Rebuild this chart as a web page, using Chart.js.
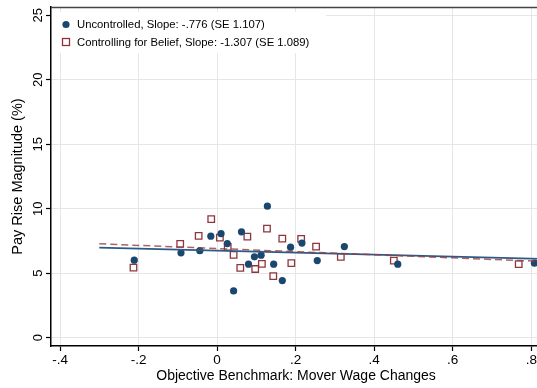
<!DOCTYPE html>
<html>
<head>
<meta charset="utf-8">
<script src="https://cdn.jsdelivr.net/npm/chart.js@4"></script>
<style>
  html, body { margin: 0; padding: 0; background: #fff; overflow: hidden; }
  #wrap { width: 537px; height: 388px; overflow: hidden; position: relative; }
  #payChart { position: absolute; left: 0; top: 0; }
</style>
</head>
<body>
<div id="wrap"><canvas id="payChart" width="547" height="388"></canvas></div>
<script>
// Uncontrolled bin means
const uncX = [-0.211, -0.092, -0.044, -0.016, 0.010, 0.026, 0.062, 0.128, 0.080, 0.095,
              0.112, 0.144, 0.166, 0.042, 0.187, 0.216, 0.255, 0.324, 0.460, 0.808];
const uncY = [6.01, 6.58, 6.75, 7.87, 8.07, 7.30, 8.21, 10.20, 5.70, 6.27,
              6.40, 5.70, 4.43, 3.63, 7.02, 7.34, 5.98, 7.07, 5.70, 5.78];

// Controlling for belief
const belX = [-0.213, -0.094, -0.047, -0.015, 0.007, 0.027, 0.042, 0.077, 0.059, 0.097,
              0.114, 0.127, 0.143, 0.166, 0.189, 0.214, 0.252, 0.315, 0.450, 0.768];
const belY = [5.43, 7.27, 7.90, 9.19, 7.76, 7.04, 6.42, 7.84, 5.41, 5.33,
              5.72, 8.46, 4.77, 7.69, 5.78, 7.66, 7.07, 6.27, 5.98, 5.70];

// fitted lines (end points)
const fitX = [-0.3, 0.825];
const fitUnc = [6.99, 6.12];
const fitBel = [7.28, 5.92];

const legendLabels = ['Uncontrolled, Slope: -.776 (SE 1.107)', 'Controlling for Belief, Slope: -1.307 (SE 1.089)'];
const xTickValues = [-0.4, -0.2, 0, 0.2, 0.4, 0.6, 0.8];
const xTickLabels = ['-.4', '-.2', '0', '.2', '.4', '.6', '.8'];
const yTickValues = [0, 5, 10, 15, 20, 25];
const yTickLabels = ['0', '5', '10', '15', '20', '25'];

const navy = '#1a476f';
const maroon = '#90353b';
const font = "'Liberation Sans', Arial, sans-serif";

function pts(xs, ys) {
    return xs.map((x, i) => ({ x: x, y: ys[i] }));
}

// legend box inside the plot + top frame + rotated y tick labels
const stataBits = {
    id: 'stataBits',
    beforeDatasetsDraw(chart) {
        const ctx = chart.ctx;
        const a = chart.chartArea;
        ctx.save();
        ctx.fillStyle = '#fff';
        ctx.fillRect(a.left + 1, 12, 274, 41);
        ctx.font = '11.3px ' + font;
        ctx.textBaseline = 'middle';
        ctx.textAlign = 'left';
        // circle
        ctx.beginPath();
        ctx.fillStyle = navy;
        ctx.arc(66, 24.5, 3.6, 0, Math.PI * 2);
        ctx.fill();
        // square
        ctx.strokeStyle = maroon;
        ctx.lineWidth = 1.3;
        ctx.strokeRect(62.5, 38.5, 7, 7);
        ctx.fillStyle = '#000';
        ctx.fillText(legendLabels[0], 77, 24.5);
        ctx.fillText(legendLabels[1], 77, 42.5);
        ctx.restore();
    },
    afterDraw(chart) {
        const ctx = chart.ctx;
        const a = chart.chartArea;
        const ys = chart.scales.y;
        ctx.save();
        ctx.strokeStyle = '#444';
        ctx.lineWidth = 1.5;
        ctx.beginPath();
        ctx.moveTo(a.left, a.top + 0.5);
        ctx.lineTo(a.right, a.top + 0.5);
        ctx.stroke();
        ctx.font = '13px ' + font;
        ctx.fillStyle = '#000';
        ctx.textAlign = 'center';
        ctx.textBaseline = 'alphabetic';
        yTickValues.forEach((v, i) => {
            const py = ys.getPixelForValue(v);
            ctx.save();
            ctx.translate(41.5, py);
            ctx.rotate(-Math.PI / 2);
            ctx.fillText(yTickLabels[i], 0, 0);
            ctx.restore();
        });
        ctx.restore();
    }
};

window.onload = function () {
    const ctx = document.getElementById('payChart').getContext('2d');
    new Chart(ctx, {
        type: 'scatter',
        data: {
            datasets: [
                {
                    label: legendLabels[0],
                    data: pts(uncX, uncY),
                    backgroundColor: navy,
                    borderColor: navy,
                    pointRadius: 3.6,
                    pointHoverRadius: 3.6,
                    borderWidth: 0,
                    order: 2
                },
                {
                    label: legendLabels[1],
                    data: pts(belX, belY),
                    pointStyle: 'rect',
                    backgroundColor: 'rgba(0,0,0,0)',
                    borderColor: maroon,
                    borderWidth: 1.3,
                    pointRadius: 4.6,
                    pointHoverRadius: 4.6,
                    order: 3
                },
                {
                    type: 'line',
                    label: 'fit1',
                    data: pts(fitX, fitUnc),
                    borderColor: '#2c5a86',
                    borderWidth: 1.8,
                    pointRadius: 0,
                    fill: false,
                    order: 1
                },
                {
                    type: 'line',
                    label: 'fit2',
                    data: pts(fitX, fitBel),
                    borderColor: 'rgba(150,60,66,0.8)',
                    borderWidth: 1.5,
                    borderDash: [7, 4],
                    pointRadius: 0,
                    fill: false,
                    order: 0
                }
            ]
        },
        options: {
            responsive: false,
            animation: false,
            layout: { padding: { top: 7, right: 1, left: 0, bottom: 0 } },
            plugins: {
                legend: { display: false },
                tooltip: { enabled: false }
            },
            scales: {
                x: {
                    type: 'linear',
                    min: -0.423,
                    max: 0.825,
                    afterBuildTicks: (scale) => {
                        scale.ticks = xTickValues.map(v => ({ value: v }));
                    },
                    afterFit: (scale) => {
                        scale.height = 42;
                        scale.paddingLeft = 0;
                        scale.paddingRight = 0;
                    },
                    grid: {
                        color: '#e6e6e6',
                        lineWidth: 1,
                        tickColor: '#000',
                        tickLength: 5,
                        tickWidth: 1.2
                    },
                    border: { color: '#000', width: 1.5 },
                    ticks: {
                        autoSkip: false,
                        maxRotation: 0,
                        padding: 1,
                        color: '#000',
                        font: { family: font, size: 13.5 },
                        callback: (v, i) => xTickLabels[i]
                    },
                    title: {
                        display: true,
                        text: 'Objective Benchmark: Mover Wage Changes',
                        color: '#000',
                        font: { family: font, size: 14 },
                        padding: { top: 0, bottom: 3.5 }
                    }
                },
                y: {
                    type: 'linear',
                    min: -0.64,
                    max: 25.64,
                    afterBuildTicks: (scale) => {
                        scale.ticks = yTickValues.map(v => ({ value: v }));
                    },
                    afterFit: (scale) => {
                        scale.width = 51;
                        scale.paddingTop = 0;
                        scale.paddingBottom = 0;
                    },
                    grid: {
                        color: '#e6e6e6',
                        lineWidth: 1,
                        tickColor: '#000',
                        tickLength: 5,
                        tickWidth: 1.2
                    },
                    border: { color: '#000', width: 1.5 },
                    ticks: { display: false },
                    title: {
                        display: true,
                        text: 'Pay Rise Magnitude (%)',
                        color: '#000',
                        font: { family: font, size: 14.5 },
                        padding: { top: 9, bottom: 0 }
                    }
                }
            }
        },
        plugins: [stataBits]
    });
};
</script>
</body>
</html>
